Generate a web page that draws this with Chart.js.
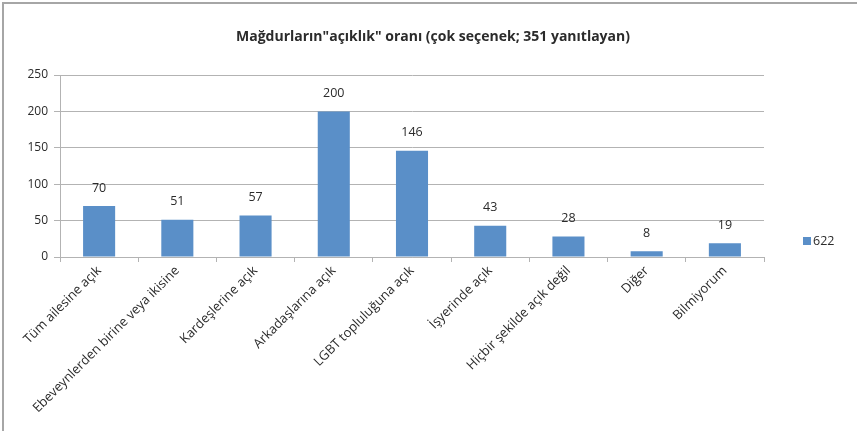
<!DOCTYPE html>
<html>
<head>
<meta charset="utf-8">
<script src="https://cdn.jsdelivr.net/npm/chart.js@4/dist/chart.umd.min.js"></script>
<style>
    body { margin: 0; background: #fff; }
    #wrap { position: relative; width: 857px; height: 431px; }
    #frame { position: absolute; left: 2px; top: 2px; right: 0; bottom: 0; border-left: 2px solid #a6a6a6; border-top: 2px solid #a6a6a6; }
    canvas { position: absolute; left: 0; top: 0; }
</style>
</head>
<body>
<div id="wrap">
    <div id="frame"></div>
    <canvas id="chart" width="857" height="431"></canvas>
</div>
<script>
const chartTitle = 'Mağdurların"açıklık" oranı (çok seçenek; 351 yanıtlayan)';
const seriesName = '622';
const categories = [
    'Tüm ailesine açık',
    'Ebeveynlerden birine veya ikisine',
    'Kardeşlerine açık',
    'Arkadaşlarına açık',
    'LGBT topluluğuna açık',
    'İşyerinde açık',
    'Hiçbir şekilde açık değil',
    'Diğer',
    'Bilmiyorum'
];
const values = [70, 51, 57, 200, 146, 43, 28, 8, 19];
const yTicks = [0, 50, 100, 150, 200, 250];

const barColor = '#5a8fc8';
const gridColor = '#b3b3b3';
const textColor = '#2b2b2b';
const baseFont = "'Open Sans', 'Liberation Sans', Arial, sans-serif";

// title centred on the whole picture, not only on the plot
const pageTitle = {
    id: 'pageTitle',
    afterDraw(chart) {
        const ctx = chart.ctx;
        ctx.save();
        ctx.font = 'bold 14px ' + baseFont;
        ctx.fillStyle = textColor;
        ctx.textAlign = 'center';
        ctx.textBaseline = 'middle';
        ctx.fillText(chartTitle, 433, 37);
        ctx.restore();
    }
};

// value labels above each bar
const valueLabels = {
    id: 'valueLabels',
    afterDatasetsDraw(chart) {
        const ctx = chart.ctx;
        const meta = chart.getDatasetMeta(0);
        ctx.save();
        ctx.font = '12.5px ' + baseFont;
        ctx.fillStyle = textColor;
        ctx.textAlign = 'center';
        ctx.textBaseline = 'middle';
        meta.data.forEach((bar, i) => {
            ctx.fillText(String(chart.data.datasets[0].data[i]), bar.x, bar.y - 18);
        });
        ctx.restore();
    }
};

// Excel style legend sitting on the right
const sideLegend = {
    id: 'sideLegend',
    afterDraw(chart) {
        const ctx = chart.ctx;
        const ds = chart.data.datasets[0];
        const x = chart.chartArea.right + 39;
        const y = 241;
        ctx.save();
        ctx.fillStyle = ds.backgroundColor;
        ctx.fillRect(x, y - 4, 8, 8);
        ctx.font = '12.5px ' + baseFont;
        ctx.fillStyle = textColor;
        ctx.textAlign = 'left';
        ctx.textBaseline = 'middle';
        ctx.fillText(ds.label, x + 10, y);
        ctx.restore();
    }
};

const chart = new Chart(document.getElementById('chart'), {
    type: 'bar',
    data: {
        labels: categories,
        datasets: [{
            label: seriesName,
            data: values,
            backgroundColor: barColor,
            borderWidth: 0,
            barPercentage: 0.41,
            categoryPercentage: 1
        }]
    },
    options: {
        responsive: false,
        animation: false,
        layout: { padding: { left: 0, right: 93, top: 75, bottom: 0 } },
        plugins: {
            legend: { display: false },
            tooltip: { enabled: false },
            title: { display: false }
        },
        scales: {
            x: {
                grid: { display: true, drawOnChartArea: false, drawTicks: true, tickLength: 5, color: gridColor, offset: true },
                border: { display: true, color: gridColor },
                ticks: {
                    color: textColor,
                    font: { family: baseFont, size: 13 },
                    maxRotation: 45,
                    minRotation: 45,
                    autoSkip: false,
                    padding: 1
                },
                afterFit(scale) { scale.height = 431 - 257; }
            },
            y: {
                min: 0,
                max: 250,
                afterBuildTicks(scale) { scale.ticks = yTicks.map(v => ({ value: v })); },
                grid: { color: gridColor, tickLength: 6 },
                border: { display: true, color: gridColor },
                ticks: {
                    color: textColor,
                    font: { family: baseFont, size: 12 },
                    padding: 6
                },
                afterFit(scale) { scale.width = 60; }
            }
        }
    },
    plugins: [pageTitle, valueLabels, sideLegend]
});
</script>
</body>
</html>
